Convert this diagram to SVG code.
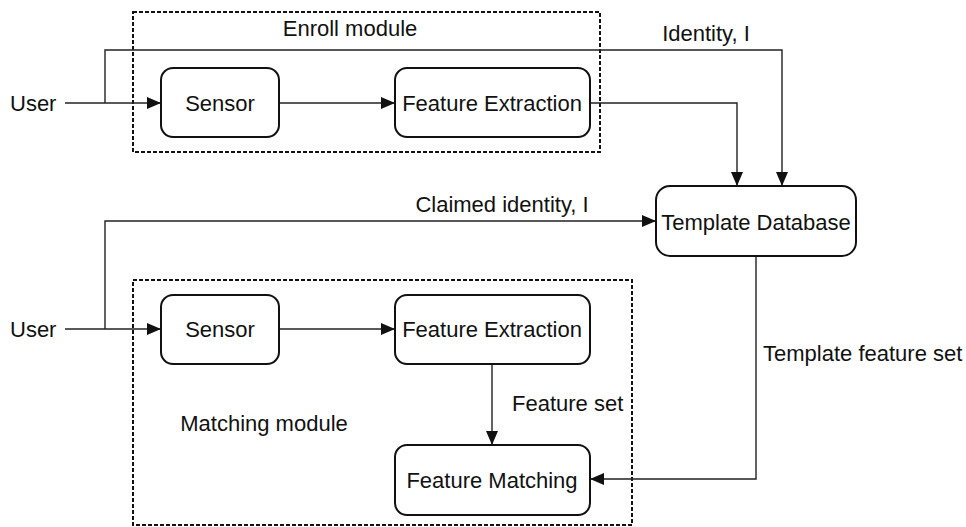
<svg xmlns="http://www.w3.org/2000/svg" width="966" height="527" viewBox="0 0 966 527">
<style>
text{font-family:"Liberation Sans",Arial,sans-serif;font-size:22px;fill:#111}
.node{fill:#fff;stroke:#111;stroke-width:2}
.grp{fill:none;stroke:#111;stroke-width:2;stroke-dasharray:4 2}
.c{fill:none;stroke:#222;stroke-width:1.4}
</style>
<defs>
<marker id="ah" viewBox="0 0 14 12" refX="14" refY="6" markerWidth="14" markerHeight="12" markerUnits="userSpaceOnUse" orient="auto">
<path d="M0,0 L14,6 L0,12 Z" fill="#111"/>
</marker>
</defs>
<rect fill="#fff" width="966" height="527"/>
<g id="enroll-module">
<rect class="grp" x="133" y="12" width="467" height="140"/>
<text x="350" y="36" text-anchor="middle">Enroll module</text>
</g>
<g id="matching-module">
<rect class="grp" x="133" y="280" width="499" height="245"/>
<text x="264" y="431" text-anchor="middle">Matching module</text>
</g>
<g id="connectors">
<path class="c" d="M65,103 H161" marker-end="url(#ah)"/>
<path class="c" d="M105,103 V50 H782 V186" marker-end="url(#ah)"/>
<path class="c" d="M279,103 H395" marker-end="url(#ah)"/>
<path class="c" d="M590,103 H737 V186" marker-end="url(#ah)"/>
<path class="c" d="M65,329 H161" marker-end="url(#ah)"/>
<path class="c" d="M105,329 V221 H656" marker-end="url(#ah)"/>
<path class="c" d="M279,329 H395" marker-end="url(#ah)"/>
<path class="c" d="M492,364 V445" marker-end="url(#ah)"/>
<path class="c" d="M756,256 V479 H590" marker-end="url(#ah)"/>
</g>
<g id="labels">
<text x="10" y="111">User</text>
<text x="10" y="337">User</text>
<text x="706" y="41" text-anchor="middle">Identity, I</text>
<text x="502" y="212" text-anchor="middle">Claimed identity, I</text>
<text x="512" y="411">Feature set</text>
<text x="763" y="361">Template feature set</text>
</g>
<g id="sensor-enroll">
<rect class="node" x="161" y="68" width="118" height="69" rx="12"/>
<text x="220" y="111" text-anchor="middle">Sensor</text>
</g>
<g id="fe-enroll">
<rect class="node" x="395" y="68" width="195" height="69" rx="12"/>
<text x="492" y="111" text-anchor="middle">Feature Extraction</text>
</g>
<g id="template-db">
<rect class="node" x="656" y="186" width="200" height="70" rx="14"/>
<text x="756" y="230" text-anchor="middle">Template Database</text>
</g>
<g id="sensor-match">
<rect class="node" x="161" y="295" width="118" height="69" rx="12"/>
<text x="220" y="337" text-anchor="middle">Sensor</text>
</g>
<g id="fe-match">
<rect class="node" x="395" y="295" width="195" height="69" rx="12"/>
<text x="492" y="337" text-anchor="middle">Feature Extraction</text>
</g>
<g id="feature-matching">
<rect class="node" x="395" y="445" width="195" height="70" rx="12"/>
<text x="492" y="488" text-anchor="middle">Feature Matching</text>
</g>
</svg>
